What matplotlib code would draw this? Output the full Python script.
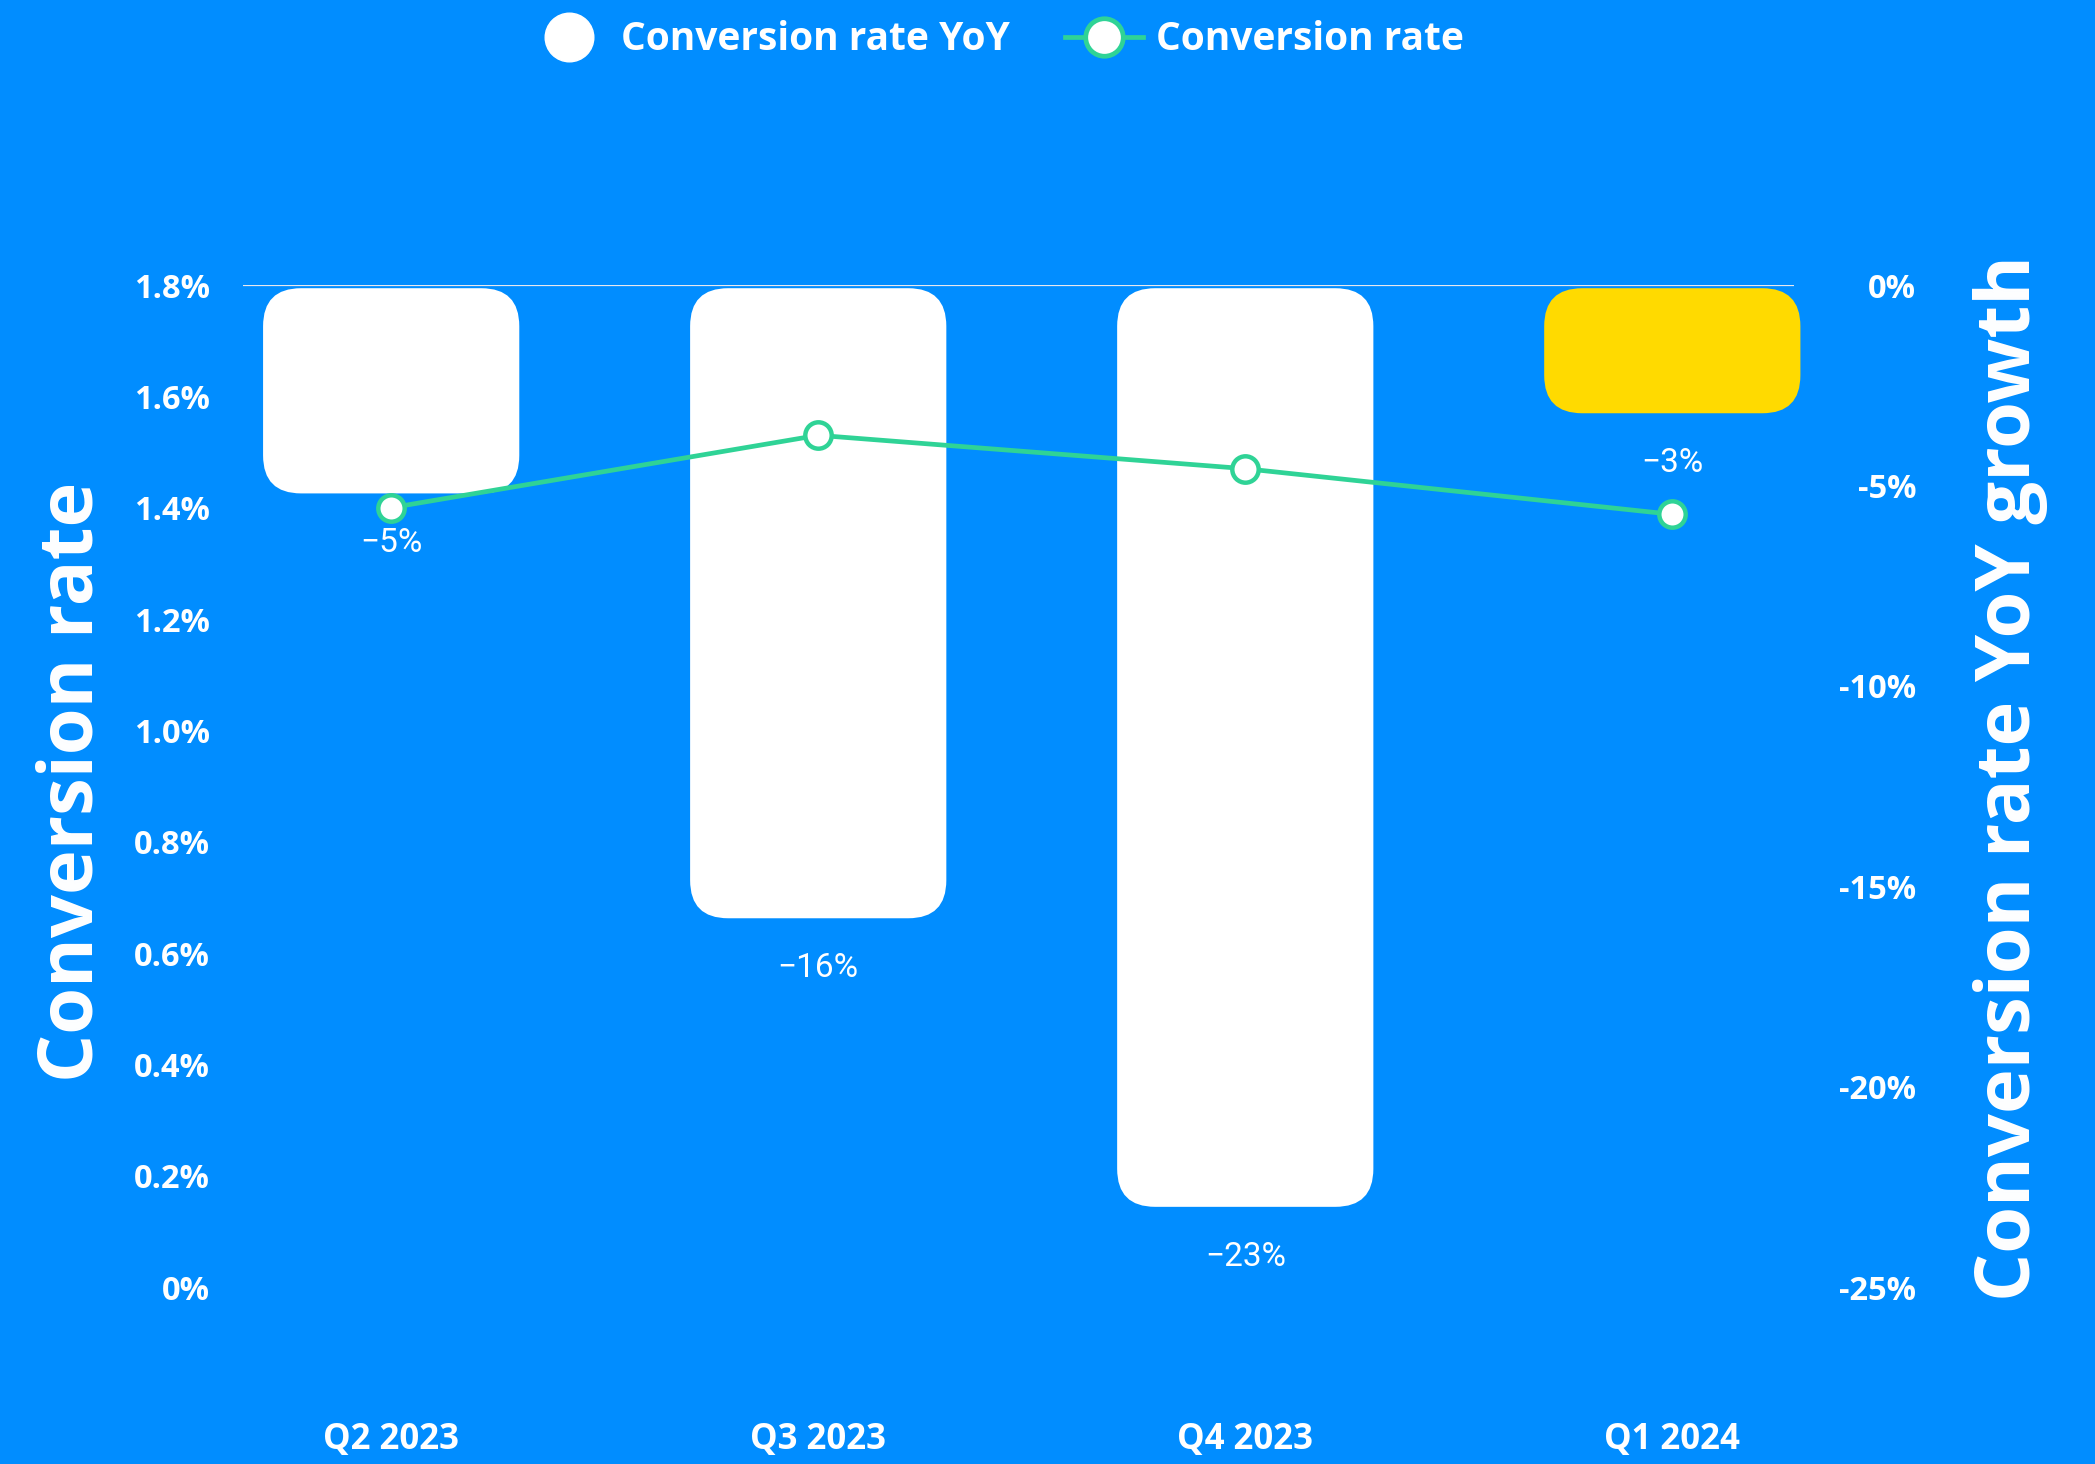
import matplotlib
matplotlib.use("Agg")
import matplotlib.pyplot as plt
from matplotlib.patches import FancyBboxPatch
from matplotlib.lines import Line2D
import numpy as np

# ---- data ----
quarters = ["Q2 2023", "Q3 2023", "Q4 2023", "Q1 2024"]
yoy_growth = [-5.2, -15.8, -23.0, -3.2]          # % (right axis, bars)
conv_rate = [1.40, 1.53, 1.47, 1.388]             # % (left axis, line)
bar_colors = ["#FFFFFF", "#FFFFFF", "#FFFFFF", "#FFDA00"]
left_ticks = [0, 0.2, 0.4, 0.6, 0.8, 1.0, 1.2, 1.4, 1.6, 1.8]
left_ticklabels = ["0%", "0.2%", "0.4%", "0.6%", "0.8%", "1.0%", "1.2%", "1.4%", "1.6%", "1.8%"]
right_ticks = [0, -5, -10, -15, -20, -25]
right_ticklabels = ["0%", "-5%", "-10%", "-15%", "-20%", "-25%"]

BG = "#018DFF"
GREEN = "#2FD396"
BOLD = ["Open Sans", "DejaVu Sans"]
LIGHT = ["Roboto", "DejaVu Sans"]

W, H, DPI = 2095, 1464, 100
fig = plt.figure(figsize=(W / DPI, H / DPI), dpi=DPI)
fig.patch.set_facecolor(BG)

L, R, B, T = 243 / W, 1794 / W, 1 - 1287 / H, 1 - 285 / H
ax = fig.add_axes([L, B, R - L, T - B])
ax.set_facecolor(BG)
ax2 = ax.twinx()
ax2.set_zorder(ax.get_zorder() + 1)
ax2.patch.set_visible(False)

x = np.arange(len(quarters))
ax.set_xlim(-0.347, 3.285)
ax.set_ylim(-25, 0)
ax2.set_ylim(0, 1.8)

for a in (ax, ax2):
    for s in a.spines.values():
        s.set_visible(False)

# top grid line
ax.axhline(0, color="#E8E8EE", lw=1.6, zorder=1)

# rounded bars
fig.canvas.draw()
p0 = ax.transData.transform((0, 0))
p1 = ax.transData.transform((1, 1))
px_x = abs(p1[0] - p0[0])
px_y = abs(p1[1] - p0[1])
radius_px = 38
r = radius_px / px_x
asp = px_x / px_y
bw = 0.6
for xi, v, c in zip(x, yoy_growth, bar_colors):
    patch = FancyBboxPatch((xi - bw / 2, v), bw, -v - 0.08,
                           boxstyle=f"round,pad=0,rounding_size={r}",
                           mutation_aspect=asp, facecolor=c, edgecolor="none",
                           zorder=2, clip_on=False)
    ax.add_patch(patch)
    lab = f"{round(v)}%".replace("-", "\u2212")
    ax.annotate(lab, (xi, v), xytext=(0, -36), textcoords="offset points",
                ha="center", va="center", color="white", fontsize=24,
                family=LIGHT, fontweight="normal", zorder=5)

# line
ax2.plot(x, conv_rate, color=GREEN, lw=3.4, marker="o", markersize=19,
         markerfacecolor="white", markeredgecolor=GREEN, markeredgewidth=3.2,
         zorder=4, clip_on=False)

# ticks
ax.set_xticks(x)
ax.set_xticklabels(quarters, fontsize=25, fontweight="bold", family=BOLD, color="white")
ax.tick_params(axis="x", length=0, pad=97)

ax.yaxis.tick_right()
ax.set_yticks(right_ticks)
ax.set_yticklabels(right_ticklabels, fontsize=23.5, fontweight="bold", family=BOLD, color="white")
ax.tick_params(axis="y", length=0, pad=88)
for t in ax.get_yticklabels():
    t.set_ha("right")

ax2.yaxis.tick_left()
ax2.set_yticks(left_ticks)
ax2.set_yticklabels(left_ticklabels, fontsize=23.5, fontweight="bold", family=BOLD, color="white")
ax2.tick_params(axis="y", length=0, pad=24)

# axis titles
fig.text(73 / W, 1 - 782 / H, "Conversion rate", rotation=90, ha="center", va="center",
         fontsize=54.5, fontweight="bold", family=BOLD, color="white")
fig.text(2011 / W, 1 - 778 / H, "Conversion rate YoY growth", rotation=90, ha="center",
         va="center", fontsize=54.5, fontweight="bold", family=BOLD, color="white")

# legend
h1 = Line2D([], [], ls="none", marker="o", markersize=35, markerfacecolor="white",
            markeredgecolor="white")
h2 = Line2D([], [], color=GREEN, lw=3.4, marker="o", markersize=27,
            markerfacecolor="white", markeredgecolor=GREEN, markeredgewidth=3.4)
leg = fig.legend([h1, h2], ["Conversion rate YoY", "Conversion rate"], loc="center",
                 bbox_to_anchor=(997 / W, 1 - 40 / H), ncol=2, frameon=False,
                 handlelength=2.0, columnspacing=1.4, handletextpad=0.35,
                 prop={"family": BOLD, "weight": "bold", "size": 28})
for t in leg.get_texts():
    t.set_color("white")

fig.savefig("out.png", dpi=DPI, facecolor=BG)
